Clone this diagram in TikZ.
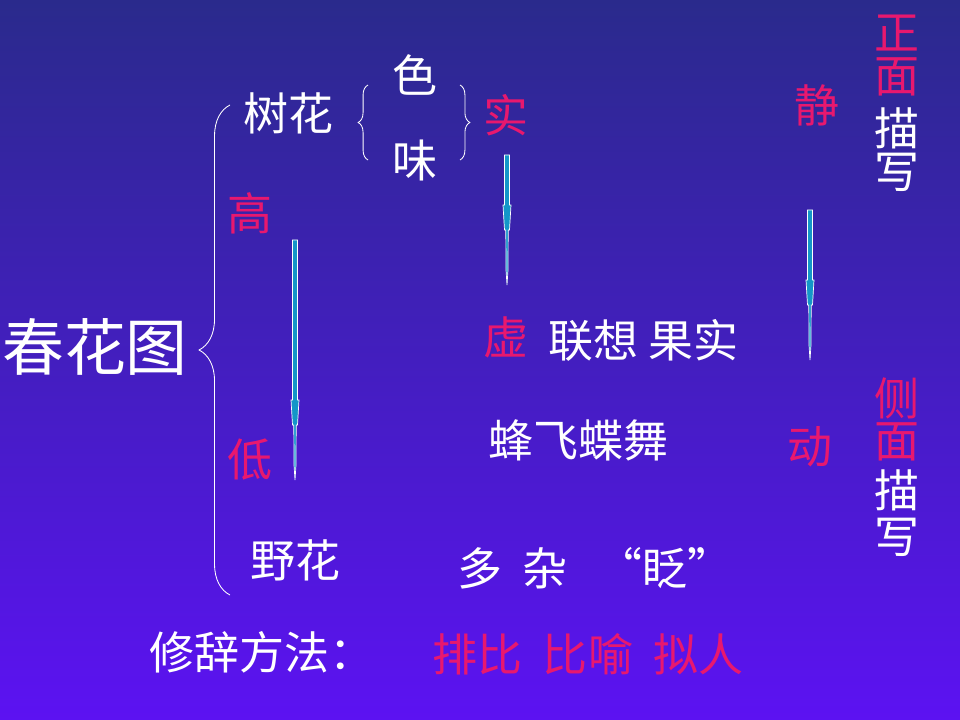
\documentclass[tikz,border=0pt]{standalone}
\usepackage{fontspec}
\setmainfont{Noto Sans CJK SC}
\usetikzlibrary{decorations.pathreplacing}
\definecolor{topblue}{RGB}{42,42,140}
\definecolor{botblue}{RGB}{92,18,242}
\definecolor{hot}{RGB}{232,24,110}
\definecolor{shaft}{RGB}{20,150,200}
\begin{document}
\begin{tikzpicture}[
		x=0.025cm, y=-0.025cm,
		txt/.style={text=white, font=\fontsize{32}{32}\selectfont, inner sep=0pt},
		red/.style={txt, text=hot},
		big/.style={txt, font=\fontsize{44}{44}\selectfont},
		brace/.style={draw=white, line width=0.6pt, decorate, decoration={brace, amplitude=#1}},
		shaftarrow/.style={fill=shaft, draw=white, line width=0.5pt}
		]
		\shade[top color=topblue, bottom color=botblue] (0,0) rectangle (960,720);
		\useasboundingbox (0,0) rectangle (960,720);

		% main title and big brace
		\node[big] (title) at (95,347) {春花图};
		\draw[brace=22pt] (230,595) -- (230,105);

		% upper branch
		\node[txt] (tree) at (288,113) {树花};
		\draw[brace=7pt] (368,160) -- (368,85);
		\node[txt] (color) at (415,75) {色};
		\node[txt] (taste) at (415,160) {味};
		\draw[brace=7pt] (460,85) -- (460,160);
		\node[red] (real) at (506,115) {实};

		\node[red] (high) at (250,213) {高};
		\node[red] (low) at (250,460) {低};
		\node[txt] (wild) at (295,560) {野花};

		\node[red] (virt) at (506,337) {虚};
		\node[txt, anchor=west] (assoc) at (548,340) {联想 果实};
		\node[txt] (bees) at (578,440) {蜂飞蝶舞};
		\node[txt] (many) at (595,568) {多\ \ 杂\ \ \ “眨”};

		\node[red] (still) at (817,105) {静};
		\node[red] (move) at (810,447) {动};

		% vertical labels
		\foreach \c/\y/\s in {正/33/red, 面/77/red, 描/128/txt, 写/172/txt,
			侧/398/red, 面/442/red, 描/490/txt, 写/537/txt}
			\node[\s] at (897,\y) {\c};

		% tapered arrows
		\foreach \x/\a/\b in {295/240/480, 507/155/285, 810/210/360}{
			\draw[shaftarrow] (\x-2.5,\a) -- (\x+2.5,\a) -- (\x+2.5,\b-80) -- (\x+4,\b-80)
				-- (\x+2.5,\b-55) -- (\x+1.2,\b-55) -- (\x+1,\b-15) -- (\x,\b) -- (\x-1,\b-15)
				-- (\x-1.2,\b-55) -- (\x-2.5,\b-55) -- (\x-4,\b-80) -- (\x-2.5,\b-80) -- cycle;
		}

		% rhetoric line
		\node[txt] (rhet) at (262,652) {修辞方法：};
		\node[red] (kinds) at (588,654) {排比\ \ 比喻\ \ 拟人};
	\end{tikzpicture}
\end{document}
